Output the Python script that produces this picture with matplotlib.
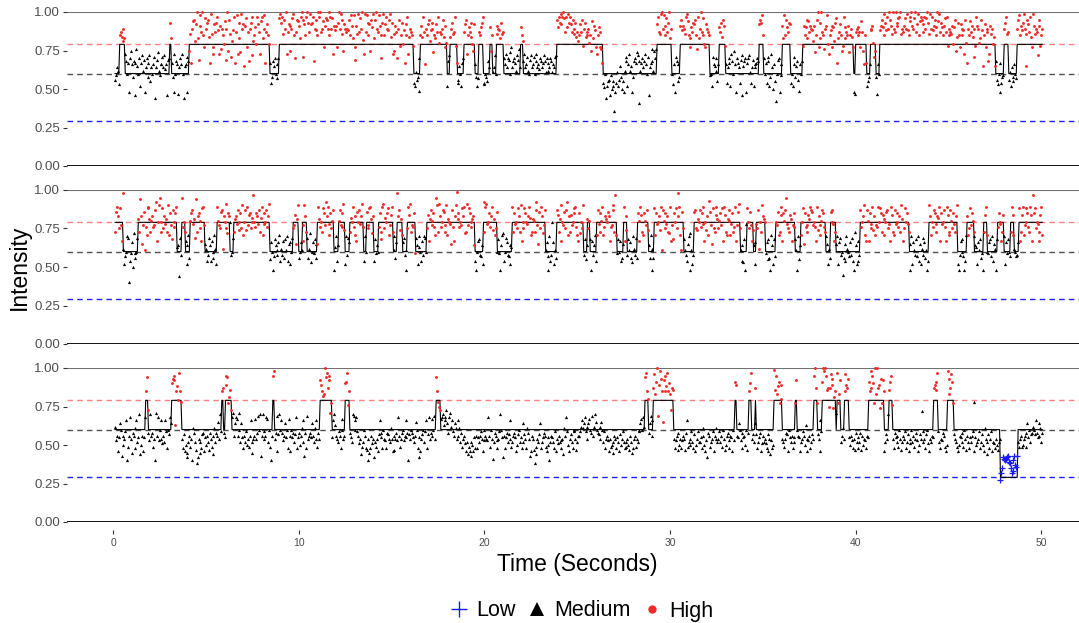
import numpy as np
import matplotlib.pyplot as plt
from matplotlib.lines import Line2D

plt.rcParams['font.family'] = ['Liberation Sans', 'DejaVu Sans']

# intensity level of each state (also the dashed guide lines)
levels = {'L': 0.29, 'M': 0.60, 'H': 0.79}

# state changes (seconds) and the state that starts at each change
p1_change = [0.0, 0.33, 0.63, 3.02, 3.11, 4.1, 8.45, 8.95, 16.18, 16.53,
             17.98, 18.12, 18.51, 18.87, 19.5, 19.68, 19.95, 20.27, 20.45, 20.63,
             21.02, 21.92, 22.1, 23.87, 26.38, 29.29, 30.1, 30.55, 32.13, 32.61,
             32.98, 34.77, 35.04, 36.03, 36.48, 37.11, 39.89, 39.98, 40.56, 40.79,
             41.06, 41.3, 47.53, 47.98, 48.25, 48.7]
p1_states = "MHMHMHMHMH" "MHMHMHMHMH" "MHMHMHMHMH" "MHMHMHMHMH" "MHMHMH"

p2_change = [0.0, 0.54, 1.35, 3.42, 3.69, 3.87, 4.13, 4.94, 5.57, 6.29,
             6.47, 8.45, 9.7, 9.97, 10.16, 10.43, 10.96, 11.86, 12.13, 12.49,
             12.72, 13.48, 13.62, 14.02, 14.29, 15.09, 15.28, 15.55, 15.82, 16.26,
             16.89, 19.5, 19.91, 20.7, 21.48, 23.27, 23.87, 25.34, 25.52, 25.7,
             26.02, 27.14, 27.5, 27.7, 28.21, 28.84, 29.11, 30.73, 31.27, 33.78,
             34.15, 34.5, 34.65, 35.13, 35.67, 36.75, 37.02, 38.37, 38.64, 38.91,
             40.25, 42.86, 43.93, 45.47, 46.0, 46.36, 46.9, 47.08, 47.62, 47.98,
             48.34, 48.52, 48.79]
p2_states = ("HMHMHMHMHM" "HMHMHMHMHM" "HMHMHMHMHM" "HMHMHMHMHM"
             "HMHMHMHMHM" "HMHMHMHMHM" "HMHMHMHMHM" "HMH")

p3_change = [0.0, 1.71, 1.89, 3.15, 3.69, 5.84, 5.93, 6.02, 6.38, 8.59,
             8.66, 11.14, 11.77, 12.49, 12.72, 17.4, 17.61, 28.61, 28.84, 29.08,
             30.16, 33.46, 33.6, 34.23, 34.36, 34.59, 34.65, 35.58, 36.03, 36.75,
             36.84, 37.74, 37.92, 38.19, 38.91, 39.0, 39.17, 39.39, 39.62, 40.7,
             41.51, 41.78, 41.96, 44.2, 44.42, 44.93, 45.28, 47.8, 48.75]
p3_states = "MHMHMHMHMH" "MHMHMHMHMH" "MHMHMHMHMH" "MHMHMHMHMH" "MHMHMHM" "LM"

# per-frame intensity: one letter per 0.05 s frame,
# 'n' = on the state level, each letter step = 0.02, capital = +0.01
p1_resid = [
    "lMpoJqrPso pTrnQhsUqm rQgvPnsjQt oRhpsQmtKp nqSfpRuoMq",
    "qSptOqgRsu pQmhTnrqGp sqTnfPqhSr lQhsUvoTyp iWtrXqmVsu",
    "vPhxQmkTru wRktLsqnUi sXlvQjoRwh rWkupKxsTg tVmrHsuwJo",
    "qSnwTrkUwp sWhrTqnQkm rPsnLqsVxu wQvsXkrTtl sVxqIrvUtp",
    "wXvjTqwZur xTuwHsvRqy wYrsUmtVvs qXwsVktRtm uYsxQvlTsr",
    "sRvqWtpWim tQxrVszOkx rWuqTlvSxp vYsrWtqIux qTwsRvxPuk",
    "lQtrIsvMqu nRhqTwkPsr qMkjNlmHsq tPwrGsqTvo RsuKqpTrwN",
    "rQsvPtmNjr tPsuQrwMhk lPnjQsrTvk qSruPnlTqm jLrqSuwJkn",
    "mKrpSlqNpt nQtsRpuQrs qTpsRnuVpr sQotRvpSqo rTpqSonRtp",
    "qSnrTpqOsr pQtrNsoQps rNqpStvSwu xTwyVrwSxu wTrvQsuPro",
    "qTrvMsuPqr sNqlUptRmk qSrmLhkInf jKlgMijKbh kNjlPmiKho",
    "rSjqToPhmr sQutDroQsp rTqnSgpQvr oUsvTwrQxy sWqtVruXps",
    "nJqhSrqKmt vRtsQwxUqp mSruTvqLwp sXrqVnmTsr qMnjSqPosK",
    "qSruPvtMqk pQsjTrnUqh sQpkRtgPrs hQstNkpRjq pQsrTvuWqs",
    "nQkrSjmTpi qKenRshMqt pWqvSruTkn jSqmPrlHqn rMtqSvpUrt",
    "sRotKqvXmp uZrqLstWnk qRtmSouVhp rTqlMwpSrq tKqsPmhGrs",
    "qSrmUrlGqh jKmqRstNjl mGqnRtvSxq uRwsZvtQys rXtuVwzQsr",
    "tVsxRqwUyt sVzrTxqUwv rTwsVyuQxs wRtvSqzUxr uSqtVrwMsq",
    "rQtnSvlPuq mTsqRkvNhs qUrtPsjMwt sNpvRgqTms rHktQsnPgr",
    "lJnhQkmMsu wQrlNjpKmq nLsvWqtRux sQgvTrwPmx tQsrJvtMqs",
]
p2_resid = [
    "kQsplRmhWo jLnsRdkMqi tMlnRokUpg mQeLjsRokN pLmrThnSvk",
    "nRlpMokSjq mHrnLqsOpf RmvLnkQpjS lNqrMoiUkp qNlhRsmPok",
    "mRpkQnlSoj sNmlQrEpnt lJqpWmnRko pMrnKqlSjn rKsmPqlOnw",
    "nLqpMrkOsj qMnrLptKqn hLrpNmqSko mQlrNskPjq nRlmPgoSln",
    "qNmhSpkRlo tJnqMrlPgs oLnkRqmTps jMqlNrhOsk pNrmLqtKjs",
    "mRqkOnsLpj hQnrMptLks nQlmRsoJpk rMpnLqkHst lOnqRjmPsk",
    "sNlqWprKoj qRmhNlsPtk mLqdRpjOsn kQmsRnlPho rNmqLjvSkt",
    "pLnrQmkSjo nMgrLhpSxo qLnmRpsJkt mRqnLopFkh nQrmLpjTks",
    "tMnqLpsKoj lQnrMhpStk nRqmLpjOsk qMnlRpkShn lRqnMpsOjk",
    "oNkrTmgQls pJmrNqhLsk mWqjNlrPko hSnmQlrTjp kPmnRqsLjh",
    "qJnlSmrKpo lNrhQmpSkj rMkqNsjLpo nQphLmrSkw jMrnQklPsh",
    "pKmrNqlJso mRlqNhsPkj qNmrKplSoh lRjqMnpKse rNqlMpkJsh",
    "mHqnRlpWsj eQlrNmkPsh tNjmQrlKon rLqsMhnKpj uQmgRlkPso",
    "lNqmRhsPkj oNrjMqkLsh mQtlNkpJrh wRnlQmhKpj qMlrEnkSpo",
    "nMqrKlhSpj rLnmQjkPsh qNrvMlkPoh mLqrNhsKpj nRgqLmkPos",
    "rQmnLhsKpj mNrqLksPjo lQnrMhkPsj qRmnFlkPso nLqmRkhTpj",
    "kQmrLnpSjh rNhqMlsKpj mLsnRqkPoj nQrlMhsPkj rMqnLpkSoh",
    "lRnqMkhPsj qNmrLskPjo mRqlNhkSpj nLrqMkpOsh qMnrLhsPkj",
    "rNlqMkpSjh mQnrLhkSpj lRmqNkspOj qNrlMhkPsj nMqrLskPoh",
    "rLqnMhkPsj qMrnLksPjo nLmqRhkPsj mRnqLksPhw qRlnMhkPsj",
]
p3_resid = [
    "oJlgKpnEli kMqdHlrkFm lhNqjKsfil gKrqUkmJsl mHkdSlrJnq",
    "kIljqMhnLr pSuvTfqRnw qMkhLgieFj lHkdNmjGce kFjhLmgKil",
    "jGmkHlfNjm lPksMqrmKv sUmoQkrSlp rQlnSjpKhl jMikHlqFjk",
    "lQkmRnsEls kMlrQjnHdl vWkmRgLsnq mJlpKnhQlg nKmjLrhKmi",
    "lNjqEmhRkl mKpljNqkHm kTsqOpyUwr vTjmKqsOlk jMlhQnklSt",
    "wLqmKjsRnq rMlIkfHjnl hGkdFhlIke jHkgLqmKhn kJhmLkjNkg",
    "lGkmJrlHkm nJlqKmdLkn mKjlPnhKeg kLnjMqhLrk mQlnRkUqMl",
    "kQrsOrqTpm rSoqMlpNkq lNjmHklIgj fHgjEigKhl hKjlMkgJnl",
    "kJrlHnkDjm lJhkMsnKel hKmjLqkHjl mKgiLnjKhp jLkhNmkEgl",
    "kGcfHkjLph jKmlHgiKdj lKjhMgkIlj hJkfNlrMig kLjhMnkGjl",
    "lMoqNprMok pQnmRlosPn mLokPnjMhk lJgkHijFlk hKjgLikMjh",
    "jHkiGljFhk lHkjMnpQnr oUwqNmpRlq rVptXisWuq gTqvRwqSpk",
    "rQkhJlmGik hJlkGmqHji kMjhLgikMj jKhlNigJem lHjkMglNkj",
    "kMjlHnkGil mJhlKgnJts lKpnJmhKli nGmqSwkLjp rLhjKmgIlj",
    "kIhgLkfJhi xQvpRtmNsk jHkmLgnKjl hKjmTnlKgj kMliOgkJlh",
    "jLkvXrmLkq gMtyWzvQrl rVsuKoqSwm pTjlNkqVsr uKilJhkGmj",
    "hKjmGlikJh lKtqWrvSmz pXrsKumTqg jLksQtvLkh mKjlHnkGjl",
    "kMhjLgkInj lHkmJgiLkt jMkhLnIgkj lKrsQtwMjh kJmlHgiWup",
    "rVtmLkjHgi lKjmHnkGlj hKjlMgwKij kMhjLigNkf jLhkMgjIhk",
    "iGjkmOqTtS tTusRqOpSu rQujHklHik lHmpKnjLmo nLqmKplNjm",
]

x_ticks = [0, 10, 20, 30, 40, 50]
y_ticks = [0, 0.25, 0.5, 0.75, 1.0]
y_labels = ["0.00", "0.25", "0.50", "0.75", "1.00"]
legend_labels = ["Low", "Medium", "High"]


def build(change, states, resid):
    groups = " ".join(resid).split()
    t, y, s = [], [], []
    for g, grp in enumerate(groups):
        for j, ch in enumerate(grp):
            tt = 0.1 + 0.5 * g + 0.05 * j
            k = np.searchsorted(change, tt, side='right') - 1
            st = states[min(k, len(states) - 1)]
            off = (ord(ch.lower()) - ord('n')) * 0.02 + (0.01 if ch.isupper() else 0)
            t.append(tt)
            s.append(st)
            y.append(min(1.0, levels[st] + off))
    return np.array(t), np.array(y), np.array(s)


panels = [build(p1_change, p1_states, p1_resid),
          build(p2_change, p2_states, p2_resid),
          build(p3_change, p3_states, p3_resid)]

styles = {'L': dict(marker='+', color='#1a1aff', ms=4.5, mew=0.9),
          'M': dict(marker='^', color='black', ms=2.3, mew=0),
          'H': dict(marker='o', color='#f02a2a', ms=2.1, mew=0)}

W, H = 1079, 623
fig = plt.figure(figsize=(W / 100, H / 100), dpi=100)
left = 67 / W
tops = [12, 190, 368]

for i, (top, (t, y, s)) in enumerate(zip(tops, panels)):
    ax = fig.add_axes([left, 1 - (top + 154) / H, 1 - left, 154 / H])
    ax.set_xlim(-2.49, 52.03)
    ax.set_ylim(0, 1)
    for sp in ax.spines.values():
        sp.set_visible(False)

    ax.axhline(1.0, color='#707070', lw=1.5, zorder=1)
    ax.axhline(0.0, color='black', lw=1.3, zorder=1)
    ax.axhline(levels['H'], color='#ff8080', lw=1.0, dashes=(4, 3), zorder=1)
    ax.axhline(levels['M'], color='#505050', lw=1.0, dashes=(4, 3), zorder=1)
    ax.axhline(levels['L'], color='#2020ff', lw=1.0, dashes=(4, 3), zorder=1)

    ax.plot(t, [levels[c] for c in s], color='black', lw=0.8, zorder=3)
    for st, kw in styles.items():
        m = s == st
        ax.plot(t[m], y[m], ls='none', clip_on=False, zorder=4, **kw)

    ax.set_yticks(y_ticks)
    ax.set_yticklabels(y_labels)
    ax.tick_params(axis='y', length=3, width=0.8, color='#333333',
                   labelsize=9.5, labelcolor='#4d4d4d', pad=2)
    if i < 2:
        ax.tick_params(axis='x', bottom=False, labelbottom=False)
    else:
        ax.spines['bottom'].set_position(('outward', 6))
        ax.set_xticks(x_ticks)
        ax.tick_params(axis='x', length=3, width=0.8, color='#333333',
                       labelsize=7.5, labelcolor='#4d4d4d', pad=2.5)

fig.text(577 / W, 1 - 565 / H, "Time (Seconds)", ha='center', va='center',
         fontsize=16.5)
fig.text(19 / W, 1 - 267 / H, "Intensity", ha='center', va='center',
         rotation=90, fontsize=16.5)

handles = [Line2D([], [], ls='none', marker='+', color='#1a1aff', ms=12, mew=1.0),
           Line2D([], [], ls='none', marker='^', color='black', ms=10, mew=0),
           Line2D([], [], ls='none', marker='o', color='#f02a2a', ms=6, mew=0)]
fig.legend(handles, legend_labels, loc='center', ncol=3, frameon=False,
           bbox_to_anchor=(581 / W, 1 - 611 / H), fontsize=15.5,
           handlelength=1.0, handletextpad=0.3, columnspacing=0.5,
           borderpad=0, borderaxespad=0)

plt.savefig('out.png', dpi=100)
